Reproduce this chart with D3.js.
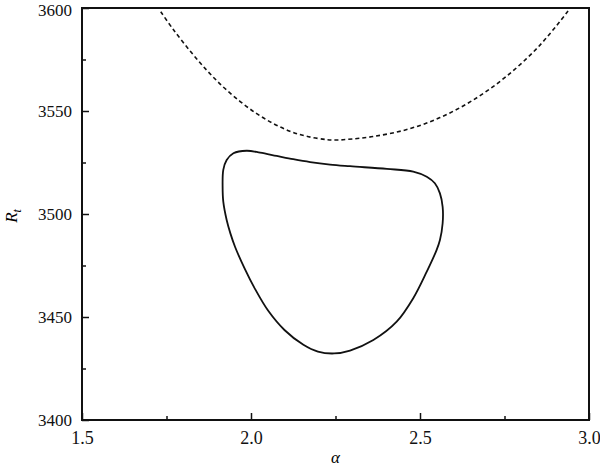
<!DOCTYPE html>
<html>
<head>
<meta charset="utf-8">
<script src="https://cdn.jsdelivr.net/npm/d3@7/dist/d3.min.js"></script>
<style>
  body { margin: 0; background: #fff; }
  text { font-family: 'Liberation Serif', 'Times New Roman', serif; }
</style>
</head>
<body>
<script>
// dashed curve (upper boundary)
var dashAlpha = [1.733, 1.769, 1.820, 1.869, 1.917, 1.968, 2.017, 2.065, 2.115, 2.165, 2.224, 2.252, 2.283, 2.361, 2.461, 2.559, 2.657, 2.757, 2.855, 2.938];
var dashRt    = [3598.2, 3589.8, 3579.1, 3569.8, 3561.8, 3554.6, 3548.7, 3544.0, 3540.2, 3537.7, 3536.1, 3535.9, 3536.2, 3537.6, 3541.0, 3546.8, 3555.3, 3567.0, 3582.0, 3598.5];

// closed contour
var loopAlpha = [1.948, 1.987, 2.027, 2.076, 2.125, 2.175, 2.234, 2.293, 2.402, 2.480, 2.520, 2.544, 2.559, 2.567, 2.567, 2.559, 2.549, 2.520, 2.480, 2.431, 2.362, 2.293, 2.246, 2.198, 2.155, 2.099, 2.051, 2.011, 1.981, 1.953, 1.939, 1.928, 1.918, 1.916, 1.918, 1.928];
var loopRt    = [3529.5, 3530.7, 3529.8, 3528.2, 3526.6, 3525.2, 3524.0, 3523.2, 3521.9, 3520.6, 3518.1, 3514.9, 3510.0, 3503.5, 3495.5, 3487.4, 3482.5, 3472.0, 3459.1, 3447.7, 3438.8, 3433.7, 3432.3, 3433.2, 3436.5, 3443.7, 3453.0, 3463.9, 3473.6, 3484.0, 3490.6, 3497.1, 3506.0, 3513.3, 3521.4, 3526.2];

var xTicks = [1.5, 2.0, 2.5, 3.0];
var xMinor = [1.75, 2.25, 2.75];
var yTicks = [3400, 3450, 3500, 3550, 3600];
var yMinor = [3425, 3475, 3525, 3575];

var width = 600, height = 468;
var margin = {left: 82, top: 8, right: 11, bottom: 48};
var w = width - margin.left - margin.right;
var h = height - margin.top - margin.bottom;
var labelFont = "'Liberation Serif', 'Times New Roman', serif";

var svg = d3.select("body").append("svg")
  .attr("width", width)
  .attr("height", height);

var g = svg.append("g")
  .attr("transform", "translate(" + margin.left + "," + margin.top + ")");

var x = d3.scaleLinear().domain([1.5, 3.0]).range([0, w]);
var y = d3.scaleLinear().domain([3400, 3600]).range([h, 0]);

//clip so curves stay inside frame
svg.append("defs").append("clipPath").attr("id", "clip")
  .append("rect").attr("width", w).attr("height", h);

var plot = g.append("g").attr("clip-path", "url(#clip)");

var line = d3.line()
  .x(function(d) { return x(d[0]); })
  .y(function(d) { return y(d[1]); })
  .curve(d3.curveCatmullRom);

var dashData = d3.zip(dashAlpha, dashRt);
plot.append("path")
  .datum(dashData)
  .attr("d", line)
  .attr("fill", "none")
  .attr("stroke", "#111")
  .attr("stroke-width", 1.6)
  .attr("stroke-dasharray", "4,3");

var loopData = d3.zip(loopAlpha, loopRt);
plot.append("path")
  .datum(loopData)
  .attr("d", line.curve(d3.curveCatmullRomClosed))
  .attr("fill", "none")
  .attr("stroke", "#111")
  .attr("stroke-width", 1.8);

// axes, ticks inward
var xAxis = g.append("g").attr("transform", "translate(0," + h + ")")
  .call(d3.axisBottom(x).tickValues(xTicks).tickSizeInner(-7).tickSizeOuter(0)
    .tickFormat(d3.format(".1f")));
g.append("g").attr("transform", "translate(0," + h + ")")
  .call(d3.axisBottom(x).tickValues(xMinor).tickSizeInner(-4).tickSizeOuter(0).tickFormat(""));

var yAxis = g.append("g")
  .call(d3.axisLeft(y).tickValues(yTicks).tickSizeInner(-7).tickSizeOuter(0)
    .tickFormat(d3.format("d")));
g.append("g")
  .call(d3.axisLeft(y).tickValues(yMinor).tickSizeInner(-4).tickSizeOuter(0).tickFormat(""));

g.selectAll(".domain").remove();
g.selectAll(".tick line").attr("stroke", "#111").attr("stroke-width", 1.5);

xAxis.selectAll("text")
  .attr("y", 24).attr("dy", 0)
  .attr("fill", "#111")
  .style("font-size", "18px")
  .style("font-family", labelFont);
yAxis.selectAll("text")
  .attr("x", -10)
  .attr("dy", function(d) { return d === 3600 ? "0.45em" : "0.32em"; })
  .attr("fill", "#111")
  .style("font-size", "17px")
  .style("font-family", labelFont);

// frame
g.append("rect")
  .attr("width", w).attr("height", h)
  .attr("fill", "none")
  .attr("stroke", "#111")
  .attr("stroke-width", 2);

// axis titles
svg.append("text")
  .attr("x", margin.left + w / 2)
  .attr("y", 463)
  .attr("text-anchor", "middle")
  .style("font-size", "17px")
  .style("font-style", "italic")
  .text("α");

var yt = svg.append("text")
  .attr("transform", "translate(17,216) rotate(-90)")
  .attr("text-anchor", "middle")
  .style("font-size", "17px")
  .style("font-style", "italic");
yt.append("tspan").text("R");
yt.append("tspan").attr("dy", 4).style("font-size", "12px").text("t");
</script>
</body>
</html>
